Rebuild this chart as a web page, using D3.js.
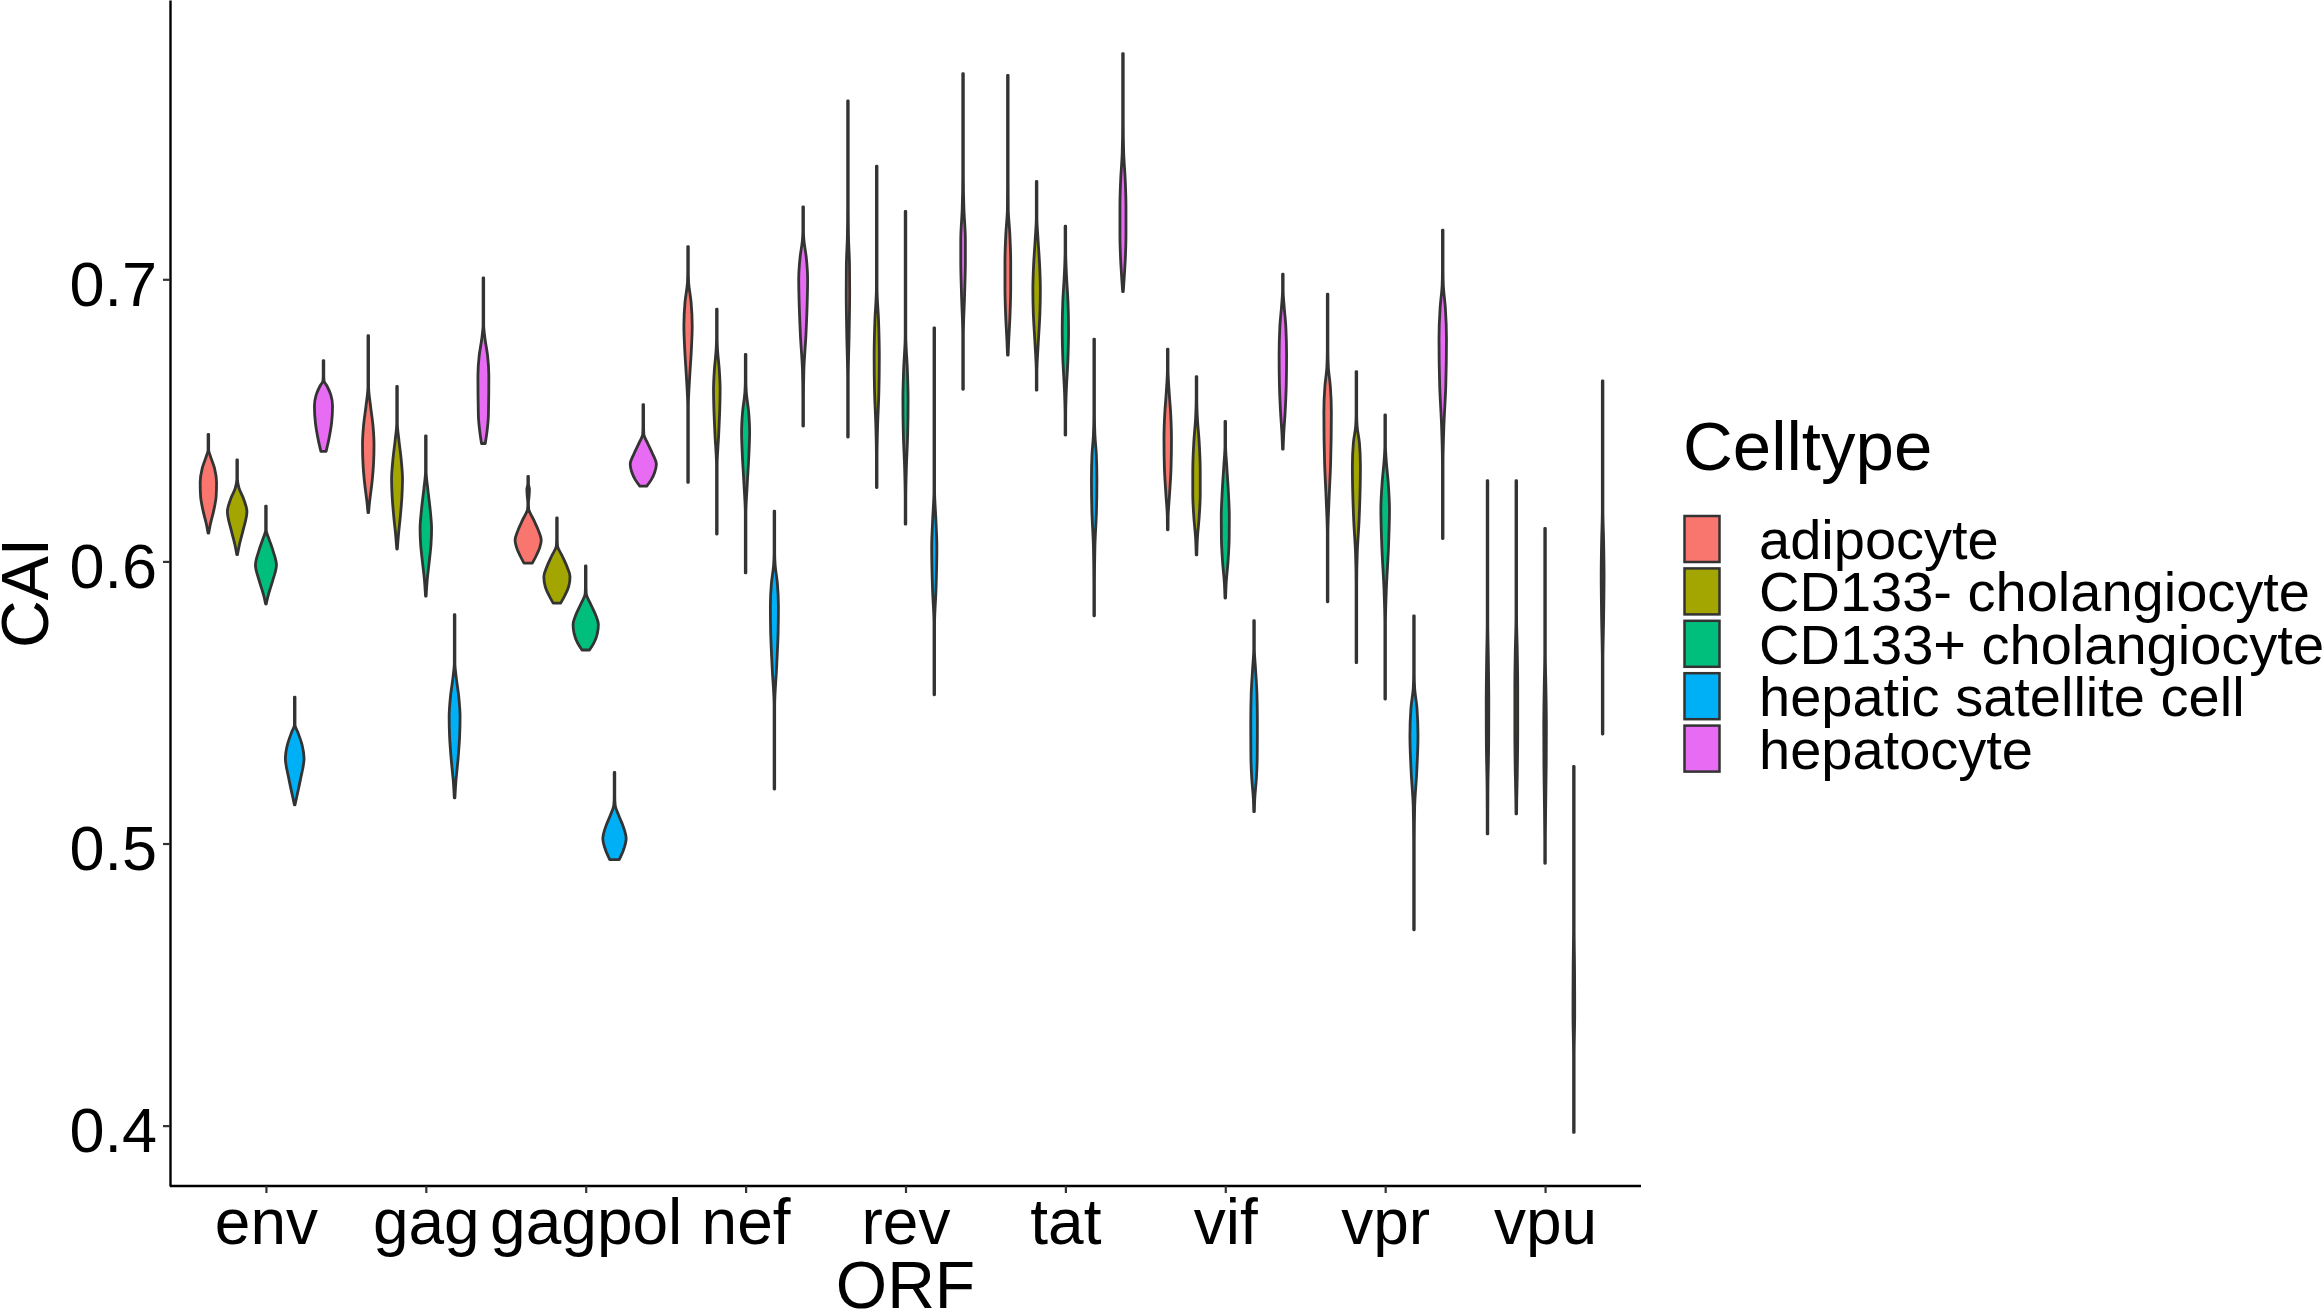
<!DOCTYPE html>
<html><head><meta charset="utf-8">
<script src="https://cdn.jsdelivr.net/npm/d3@7"></script>
<style>
body{margin:0;background:#fff;overflow:hidden}
text{font-family:"Liberation Sans",Arial,Helvetica,sans-serif;fill:#000}
</style>
</head><body>
<svg id="c" width="2323" height="1313"></svg>
<script>
// ---- data ----
const orfs = ["env","gag","gagpol","nef","rev","tat","vif","vpr","vpu"];
const cellTypes = ["adipocyte","CD133- cholangiocyte","CD133+ cholangiocyte","hepatic satellite cell","hepatocyte"];
const fillColors = ["#F8766D","#A3A500","#00BF7D","#00B0F6","#E76BF3"];
const yTicks = [0.4,0.5,0.6,0.7];
const xTitle = "ORF", yTitle = "CAI", legendTitle = "Celltype";

// violin outlines per cell type, one per ORF (same order as orfs): [CAI, relative width]
const adipocyte = [
 [[0.610,.1],[0.613,.22],[0.618,.46],[0.623,.63],[0.628,.66],[0.633,.52],[0.6375,.22],[0.6395,.07],[0.642,.03],[0.645,.03]],
 [[0.6173,.05],[0.621,.18],[0.628,.35],[0.635,.46],[0.6414,.49],[0.648,.42],[0.655,.25],[0.662,.08],[0.67,.03],[0.68,.03]],
 [[0.5994,.38],[0.602,.65],[0.605,.9],[0.6075,1.0],[0.611,.8],[0.615,.45],[0.6185,.13],[0.6205,.06],[0.6235,.16],[0.6255,.18],[0.6275,.08],[0.6301,.03]],
 [[0.628,.03],[0.64,.04],[0.655,.08],[0.665,.2],[0.675,.32],[0.6835,.38],[0.692,.3],[0.699,.13],[0.703,.04],[0.7116,.03]],
 [[0.6441,.03],[0.655,.05],[0.665,.1],[0.68,.17],[0.695,.21],[0.705,.2],[0.715,.13],[0.725,.05],[0.74,.03],[0.7632,.03]],
 [[0.6731,.1],[0.678,.15],[0.687,.24],[0.697,.29],[0.706,.29],[0.716,.23],[0.725,.12],[0.733,.05],[0.75,.03],[0.7723,.03]],
 [[0.6112,.05],[0.616,.12],[0.624,.22],[0.633,.32],[0.6433,.35],[0.652,.3],[0.66,.19],[0.668,.07],[0.6752,.03]],
 [[0.5857,.03],[0.598,.04],[0.61,.08],[0.622,.19],[0.635,.3],[0.6529,.35],[0.662,.28],[0.669,.14],[0.675,.05],[0.685,.03],[0.6947,.03]],
 [[0.5034,.03],[0.51,.06],[0.52,.12],[0.535,.17],[0.55,.18],[0.565,.15],[0.578,.1],[0.59,.04],[0.605,.03],[0.6286,.03]]
];
const cd133neg = [
 [[0.6024,.08],[0.606,.25],[0.611,.5],[0.6177,.77],[0.622,.55],[0.626,.22],[0.629,.06],[0.632,.03],[0.636,.03]],
 [[0.6044,.05],[0.609,.18],[0.616,.32],[0.623,.43],[0.6292,.47],[0.636,.38],[0.643,.22],[0.649,.07],[0.655,.03],[0.662,.03]],
 [[0.5852,.35],[0.588,.65],[0.591,.9],[0.5946,1.0],[0.598,.8],[0.602,.45],[0.6055,.13],[0.608,.04],[0.6154,.03]],
 [[0.6097,.03],[0.622,.05],[0.634,.11],[0.645,.22],[0.655,.3],[0.661,.32],[0.668,.26],[0.675,.14],[0.679,.05],[0.6894,.03]],
 [[0.6262,.03],[0.637,.07],[0.648,.15],[0.66,.24],[0.6728,.27],[0.685,.22],[0.697,.11],[0.708,.04],[0.72,.03],[0.7401,.03]],
 [[0.6607,.04],[0.667,.1],[0.677,.2],[0.688,.32],[0.6965,.35],[0.705,.3],[0.714,.19],[0.722,.08],[0.727,.03],[0.7347,.03]],
 [[0.6023,.06],[0.608,.15],[0.616,.28],[0.624,.35],[0.632,.35],[0.642,.28],[0.651,.15],[0.658,.06],[0.6655,.03]],
 [[0.5641,.03],[0.578,.04],[0.592,.08],[0.603,.15],[0.615,.28],[0.6339,.37],[0.642,.3],[0.648,.14],[0.652,.05],[0.66,.03],[0.6673,.03]],
 [[0.5105,.08],[0.515,.12],[0.525,.16],[0.54,.19],[0.555,.19],[0.568,.16],[0.58,.1],[0.59,.05],[0.605,.03],[0.6286,.03]]
];
const cd133pos = [
 [[0.5849,.08],[0.588,.25],[0.593,.55],[0.5987,.82],[0.6035,.6],[0.608,.3],[0.611,.08],[0.614,.03],[0.6196,.03]],
 [[0.5877,.04],[0.593,.18],[0.600,.33],[0.606,.45],[0.6116,.49],[0.618,.4],[0.626,.22],[0.632,.08],[0.638,.03],[0.6445,.03]],
 [[0.5686,.35],[0.571,.65],[0.5745,.9],[0.5777,.97],[0.581,.78],[0.585,.42],[0.5885,.13],[0.591,.04],[0.5984,.03]],
 [[0.5959,.03],[0.606,.05],[0.617,.11],[0.627,.2],[0.638,.32],[0.6458,.37],[0.653,.3],[0.66,.14],[0.664,.05],[0.6734,.03]],
 [[0.6132,.03],[0.622,.06],[0.633,.15],[0.645,.24],[0.6575,.27],[0.668,.22],[0.68,.11],[0.69,.04],[0.705,.03],[0.7241,.03]],
 [[0.6448,.03],[0.652,.07],[0.66,.15],[0.672,.27],[0.6823,.31],[0.692,.27],[0.702,.16],[0.71,.06],[0.713,.03],[0.7188,.03]],
 [[0.587,.06],[0.592,.15],[0.6,.28],[0.608,.36],[0.616,.37],[0.625,.3],[0.634,.19],[0.641,.08],[0.6496,.03]],
 [[0.5512,.03],[0.565,.04],[0.578,.08],[0.59,.17],[0.605,.32],[0.6185,.39],[0.628,.3],[0.636,.16],[0.641,.05],[0.646,.03],[0.6519,.03]],
 [[0.493,.04],[0.5,.08],[0.512,.13],[0.528,.17],[0.542,.18],[0.555,.15],[0.567,.1],[0.578,.05],[0.59,.03],[0.6117,.03]]
];
const satellite = [
 [[0.5137,.08],[0.517,.25],[0.523,.5],[0.5302,.74],[0.535,.6],[0.5395,.3],[0.542,.1],[0.546,.04],[0.5519,.03]],
 [[0.5162,.04],[0.522,.18],[0.530,.33],[0.538,.44],[0.545,.47],[0.552,.38],[0.559,.2],[0.564,.08],[0.572,.04],[0.5811,.03]],
 [[0.4943,.42],[0.4975,.7],[0.5018,.9],[0.506,.7],[0.51,.38],[0.5135,.14],[0.5165,.07],[0.52,.04],[0.5252,.03]],
 [[0.5193,.03],[0.535,.05],[0.549,.11],[0.562,.24],[0.575,.35],[0.5843,.37],[0.592,.3],[0.599,.14],[0.603,.05],[0.6178,.03]],
 [[0.5527,.03],[0.565,.04],[0.578,.09],[0.59,.21],[0.605,.27],[0.615,.2],[0.625,.09],[0.64,.04],[0.66,.03],[0.6828,.03]],
 [[0.5807,.03],[0.592,.06],[0.605,.14],[0.618,.25],[0.629,.28],[0.638,.24],[0.645,.14],[0.652,.06],[0.662,.03],[0.6788,.03]],
 [[0.5113,.05],[0.516,.14],[0.523,.25],[0.531,.31],[0.5431,.32],[0.553,.29],[0.562,.19],[0.569,.08],[0.574,.04],[0.579,.03]],
 [[0.4694,.03],[0.485,.04],[0.50,.07],[0.513,.14],[0.525,.28],[0.5382,.37],[0.548,.3],[0.555,.14],[0.56,.06],[0.57,.03],[0.5807,.03]],
 [[0.3976,.03],[0.41,.06],[0.425,.11],[0.44,.15],[0.455,.14],[0.47,.1],[0.485,.05],[0.5,.03],[0.5273,.03]]
];
const hepatocyte = [
 [[0.639,.27],[0.643,.45],[0.649,.65],[0.655,.72],[0.659,.6],[0.662,.35],[0.664,.13],[0.666,.05],[0.6712,.03]],
 [[0.6418,.22],[0.646,.34],[0.652,.44],[0.6658,.47],[0.673,.38],[0.679,.2],[0.684,.07],[0.69,.03],[0.7005,.03]],
 [[0.6267,.33],[0.629,.65],[0.6315,.88],[0.6345,1.0],[0.638,.75],[0.642,.38],[0.645,.13],[0.648,.05],[0.6556,.03]],
 [[0.648,.03],[0.658,.06],[0.668,.14],[0.68,.28],[0.69,.36],[0.70,.4],[0.708,.3],[0.714,.14],[0.717,.05],[0.7257,.03]],
 [[0.661,.03],[0.672,.05],[0.68,.11],[0.695,.2],[0.706,.25],[0.714,.25],[0.725,.15],[0.737,.05],[0.75,.03],[0.7729,.03]],
 [[0.6956,.1],[0.70,.17],[0.708,.26],[0.716,.3],[0.726,.3],[0.735,.25],[0.745,.14],[0.755,.05],[0.765,.03],[0.78,.03]],
 [[0.6398,.05],[0.645,.15],[0.653,.25],[0.663,.33],[0.6728,.35],[0.683,.3],[0.691,.17],[0.696,.06],[0.7018,.03]],
 [[0.6081,.03],[0.622,.04],[0.635,.08],[0.648,.17],[0.662,.3],[0.6788,.35],[0.69,.27],[0.698,.13],[0.703,.05],[0.71,.03],[0.7174,.03]],
 [[0.5388,.03],[0.55,.05],[0.565,.1],[0.58,.16],[0.595,.19],[0.607,.16],[0.618,.1],[0.63,.04],[0.645,.03],[0.664,.03]]
];
const seriesByType = [adipocyte, cd133neg, cd133pos, satellite, hepatocyte];

// ---- drawing ----
const svg = d3.select("#c");
const plot = {left:170, right:1641, top:0, bottom:1186};
const FONT = '"Liberation Sans",Arial,Helvetica,sans-serif';
const OUTLINE = "#333333";

const x = d3.scalePoint().domain(orfs).range([plot.left, plot.right]).padding(0.6);
const dodge = d3.scaleBand().domain(cellTypes).range([-0.45*x.step(), 0.45*x.step()]);
const y = d3.scaleLinear().domain([0.3786, 0.7990]).range([plot.bottom, plot.top]);

const halfW = rel => Math.max(0.3, rel * dodge.bandwidth()/2 - 1.3);

const gViol = svg.append("g");
cellTypes.forEach((ct, ci) => {
  const cx0 = dodge(ct) + dodge.bandwidth()/2;
  seriesByType[ci].forEach((prof, oi) => {
    const cx = x(orfs[oi]) + cx0;
    const pts = prof.slice().sort((a,b)=>b[0]-a[0]);
    const area = d3.area()
      .y(d => y(d[0]))
      .x0(d => cx - halfW(d[1]))
      .x1(d => cx + halfW(d[1]))
      .curve(d3.curveMonotoneY);
    gViol.append("path")
      .attr("d", area(pts))
      .attr("fill", fillColors[ci])
      .attr("stroke", OUTLINE)
      .attr("stroke-width", 2.8)
      .attr("stroke-linejoin", "round");
  });
});

// axes
const yAxis = d3.axisLeft(y).tickValues(yTicks).tickFormat(d3.format(".1f"))
  .tickSize(7).tickSizeOuter(0).tickPadding(6);
const gy = svg.append("g").attr("transform", `translate(${plot.left},0)`).call(yAxis);
gy.select(".domain").attr("stroke","#000").attr("stroke-width",2.4);
gy.selectAll(".tick line").attr("stroke","#333").attr("stroke-width",2.2);
gy.selectAll(".tick text").attr("font-family",FONT).attr("font-size",63).attr("fill","#000").attr("dy","0.41em");

const xAxis = d3.axisBottom(x).tickSize(7).tickSizeOuter(0).tickPadding(6);
const gx = svg.append("g").attr("transform", `translate(0,${plot.bottom})`).call(xAxis);
gx.select(".domain").attr("stroke","#000").attr("stroke-width",2.4)
  .attr("d", `M${plot.left},0H${plot.right}`);
gx.selectAll(".tick line").attr("stroke","#333").attr("stroke-width",2.2);
gx.selectAll(".tick text").attr("font-family",FONT).attr("font-size",64).attr("fill","#000")
  .attr("dy",null).attr("y",58);

// axis titles
svg.append("text").attr("x",(plot.left+plot.right)/2).attr("y",1308)
  .attr("text-anchor","middle").attr("font-size",66).text(xTitle);
svg.append("text").attr("transform",`translate(48,${(plot.top+plot.bottom)/2}) rotate(-90)`)
  .attr("text-anchor","middle").attr("font-size",66).text(yTitle);

// legend
const lg = svg.append("g");
lg.append("text").attr("x",1683).attr("y",470).attr("font-size",69).text(legendTitle);
cellTypes.forEach((ct,i) => {
  const top = 516 + i*52.4;
  lg.append("rect").attr("x",1684.5).attr("y",top).attr("width",35).attr("height",46)
    .attr("fill",fillColors[i]).attr("stroke",OUTLINE).attr("stroke-width",2.5);
  lg.append("text").attr("x",1759).attr("y",top+43).attr("font-size",56).text(ct);
});
</script>
</body></html>
